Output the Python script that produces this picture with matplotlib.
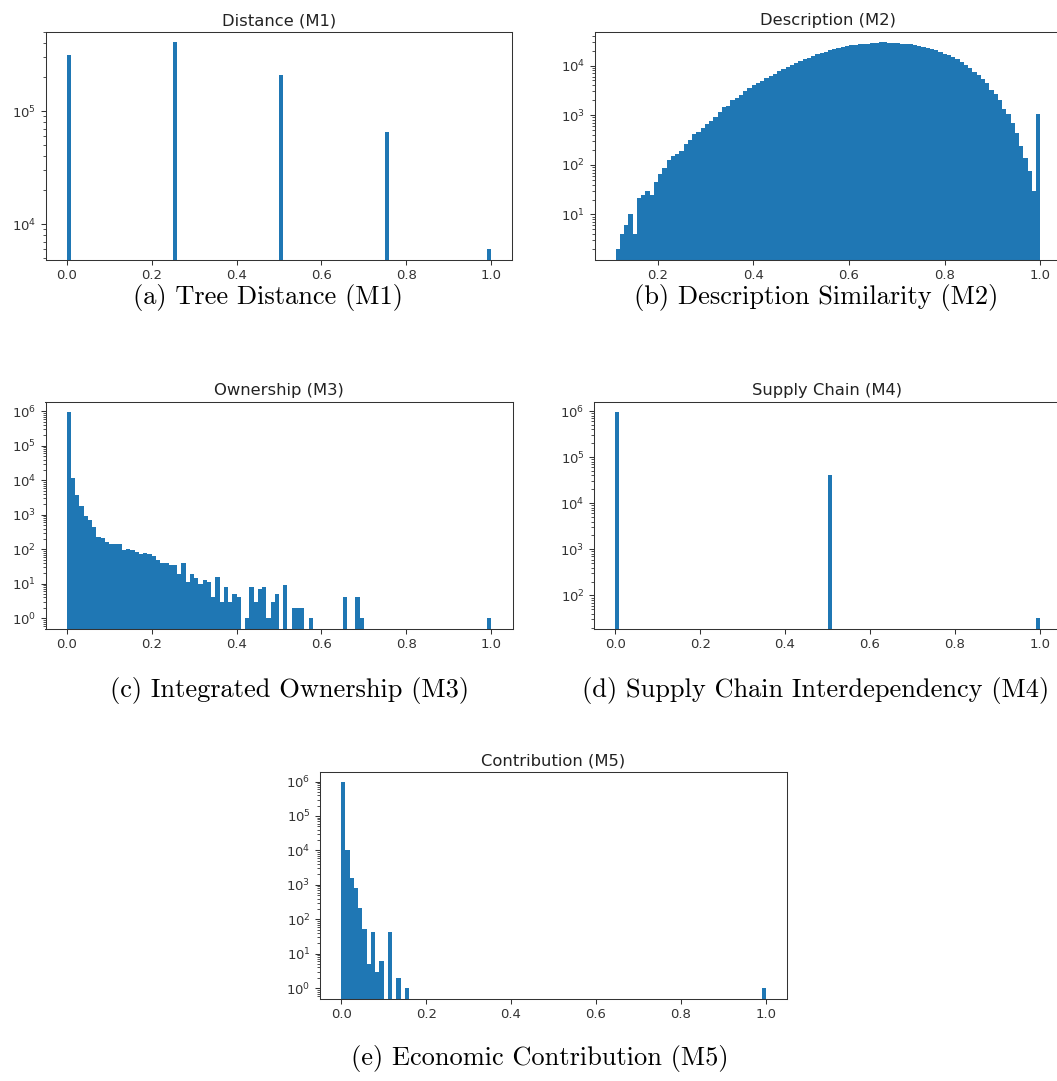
"""Histograms of the five pairwise measures (M1-M5), log-scaled counts."""
import numpy as np
import matplotlib; matplotlib.use('Agg')
import matplotlib.pyplot as plt

# --- data (100 bins per panel, counts per bin) ---
m1_bins = [0, 25, 50, 75, 99]
m1_counts = [316000, 407000, 210000, 66000, 6000]

m2_range = (0.112, 1.0)
m2_counts = [2, 4, 6, 10, 4, 21, 25, 30, 25, 45,
             66, 86, 125, 148, 164, 194, 268, 312, 424, 464,
             557, 660, 770, 925, 1160, 1460, 1530, 1980, 2240, 2490,
             3040, 3550, 4000, 4400, 4900, 5500, 6100, 6900, 7700, 8600,
             9500, 10300, 11200, 12300, 13300, 14400, 15500, 16800, 18000, 19100,
             20200, 21200, 22200, 23200, 24500, 25500, 26200, 26800, 27300, 27700,
             28200, 28700, 29100, 29300, 29000, 28500, 28000, 27500, 27000, 26600,
             25700, 25000, 23900, 22500, 21100, 20200, 18700, 16800, 16100, 14900,
             13400, 12000, 10200, 8850, 7480, 6420, 5340, 4380, 3230, 2690,
             1980, 1350, 1070, 700, 442, 243, 136, 74, 30, 1040]

m3_head = [940000, 11600, 3750, 1800, 930, 710, 430, 234, 210, 164,
           138, 138, 138, 94, 103, 94, 85, 71, 77, 71,
           65, 49, 41, 41, 34, 34, 19, 41, 11, 19,
           15, 10, 13, 11, 4, 16, 3, 8, 3, 5,
           4, 0, 1, 8, 3, 7, 8, 1, 3, 5,
           0, 9, 0, 2, 2, 2, 0, 1, 0, 0,
           0, 0, 0, 0, 0, 4, 0, 0, 4, 1]
m3_last = 1  # bin at 1.0

m4_bins = [0, 50, 99]
m4_counts = [940000, 41000, 32]

m5_head = [950000, 10600, 1550, 825, 219, 54, 5, 44, 3, 6,
           0, 44, 0, 2, 0, 1]
m5_last = 1

titles = ['Distance (M1)', 'Description (M2)', 'Ownership (M3)',
          'Supply Chain (M4)', 'Contribution (M5)']
captions = ['(a) Tree Distance (M1)', '(b) Description Similarity (M2)',
            '(c) Integrated Ownership (M3)', '(d) Supply Chain Interdependency (M4)',
            '(e) Economic Contribution (M5)']


def full(head, last=None, bins=None, counts=None):
    c = np.zeros(100)
    if head is not None:
        c[:len(head)] = head
    if last is not None:
        c[99] = last
    if bins is not None:
        c[bins] = counts
    return c


edges01 = np.linspace(0, 1, 101)
edges2 = np.linspace(m2_range[0], m2_range[1], 101)
panels = [
    (edges01, full(None, bins=m1_bins, counts=m1_counts)),
    (edges2, np.array(m2_counts, float)),
    (edges01, full(m3_head, m3_last)),
    (edges01, full(None, bins=m4_bins, counts=m4_counts)),
    (edges01, full(m5_head, m5_last)),
]

plt.rcParams.update({
    'axes.linewidth': 0.75, 'xtick.major.width': 0.75, 'ytick.major.width': 0.75,
    'xtick.minor.width': 0.6, 'ytick.minor.width': 0.6,
    'xtick.major.size': 3.3, 'ytick.major.size': 3.3,
    'xtick.minor.size': 1.9, 'ytick.minor.size': 1.9,
    'xtick.labelsize': 9.5, 'ytick.labelsize': 9.5,
    'axes.edgecolor': '#333333', 'xtick.color': '#333333', 'ytick.color': '#333333',
    'text.color': '#222222',
})

W, H = 1057, 1081
fig = plt.figure(figsize=(W / 100, H / 100), dpi=100)

# axes frames in pixels: left, top, width, height
rects = [(45.7, 32, 466.6, 227.5), (594.5, 32, 467, 227.5),
         (45.5, 402, 467, 226.5), (594, 402, 467, 226.5),
         (320, 772, 467, 226.5)]
cap_pos = [(268, 298), (816, 298), (290, 691), (816, 691), (540, 1058)]

for (edges, counts), (l, t, w, h), title in zip(panels, rects, titles):
    ax = fig.add_axes([l / W, 1 - (t + h) / H, w / W, h / H])
    ax.hist(edges[:-1], bins=edges, weights=counts, log=True, color='#1f77b4')
    ax.set_title(title, fontsize=11.8, pad=5)

for (x, y), cap in zip(cap_pos, captions):
    fig.text(x / W, 1 - y / H, cap, family='cmr10', fontsize=19,
             ha='center', va='center', color='black')

fig.savefig('out.png', dpi=100)
